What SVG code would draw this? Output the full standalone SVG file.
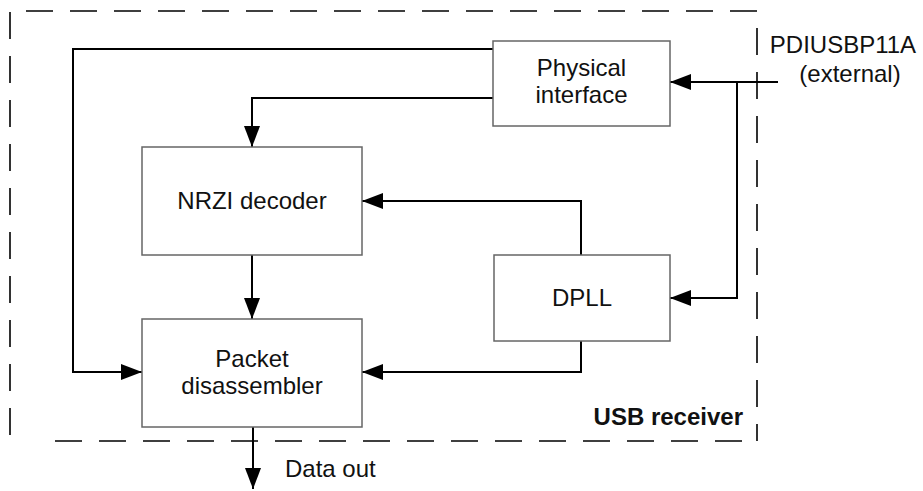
<svg xmlns="http://www.w3.org/2000/svg" width="923" height="491" viewBox="0 0 923 491">
  <style>
    .box { fill: #ffffff; stroke: #666666; stroke-width: 1.5; }
    .wire { fill: none; stroke: #000000; stroke-width: 2; }
    .bound { fill: none; stroke: #000000; stroke-width: 1.6; stroke-dasharray: 27 17; }
    .lbl { font-family: "Liberation Sans", Arial, sans-serif; font-size: 24px; fill: #111111; }
    .mid { text-anchor: middle; }
    .bold { font-weight: bold; }
  </style>
  <defs>
    <marker id="arrow" markerUnits="userSpaceOnUse" markerWidth="22" markerHeight="16" refX="21" refY="8" orient="auto">
      <path d="M0,0 L21,8 L0,16 Z" fill="#000000"/>
    </marker>
  </defs>

  <!-- USB receiver boundary -->
  <g id="boundary">
    <line class="bound" x1="26" y1="11" x2="757" y2="11"/>
    <line class="bound" x1="10" y1="12" x2="10" y2="441"/>
    <line class="bound" x1="55" y1="441" x2="757" y2="441"/>
    <line class="bound" x1="757" y1="28" x2="757" y2="441"/>
    <text class="lbl bold" x="743" y="425" text-anchor="end">USB receiver</text>
  </g>

  <!-- connectors -->
  <g id="connectors">
    <polyline class="wire" points="493,49 73,49 73,372 142,372" marker-end="url(#arrow)"/>
    <polyline class="wire" points="493,98 252,98 252,147" marker-end="url(#arrow)"/>
    <polyline class="wire" points="778,82 670,82" marker-end="url(#arrow)"/>
    <polyline class="wire" points="737,82 737,298 670,298" marker-end="url(#arrow)"/>
    <polyline class="wire" points="581,255 581,201 362,201" marker-end="url(#arrow)"/>
    <polyline class="wire" points="581,341 581,372 362,372" marker-end="url(#arrow)"/>
    <polyline class="wire" points="252,255 252,319" marker-end="url(#arrow)"/>
    <polyline class="wire" points="253,427 253,489" marker-end="url(#arrow)"/>
  </g>

  <g id="physical-interface">
    <rect class="box" x="493" y="41" width="177" height="85"/>
    <text class="lbl mid" x="581.5" y="76">Physical</text>
    <text class="lbl mid" x="581.5" y="103">interface</text>
  </g>

  <g id="nrzi-decoder">
    <rect class="box" x="142" y="147" width="220" height="108"/>
    <text class="lbl mid" x="252" y="209">NRZI decoder</text>
  </g>

  <g id="dpll">
    <rect class="box" x="494" y="255" width="176" height="86"/>
    <text class="lbl mid" x="582" y="306">DPLL</text>
  </g>

  <g id="packet-disassembler">
    <rect class="box" x="142" y="319" width="220" height="108"/>
    <text class="lbl mid" x="252" y="367">Packet</text>
    <text class="lbl mid" x="252" y="394">disassembler</text>
  </g>

  <g id="external-chip">
    <text class="lbl mid" x="843" y="53">PDIUSBP11A</text>
    <text class="lbl mid" x="850" y="82">(external)</text>
  </g>

  <g id="data-out">
    <text class="lbl" x="285" y="477">Data out</text>
  </g>
</svg>
